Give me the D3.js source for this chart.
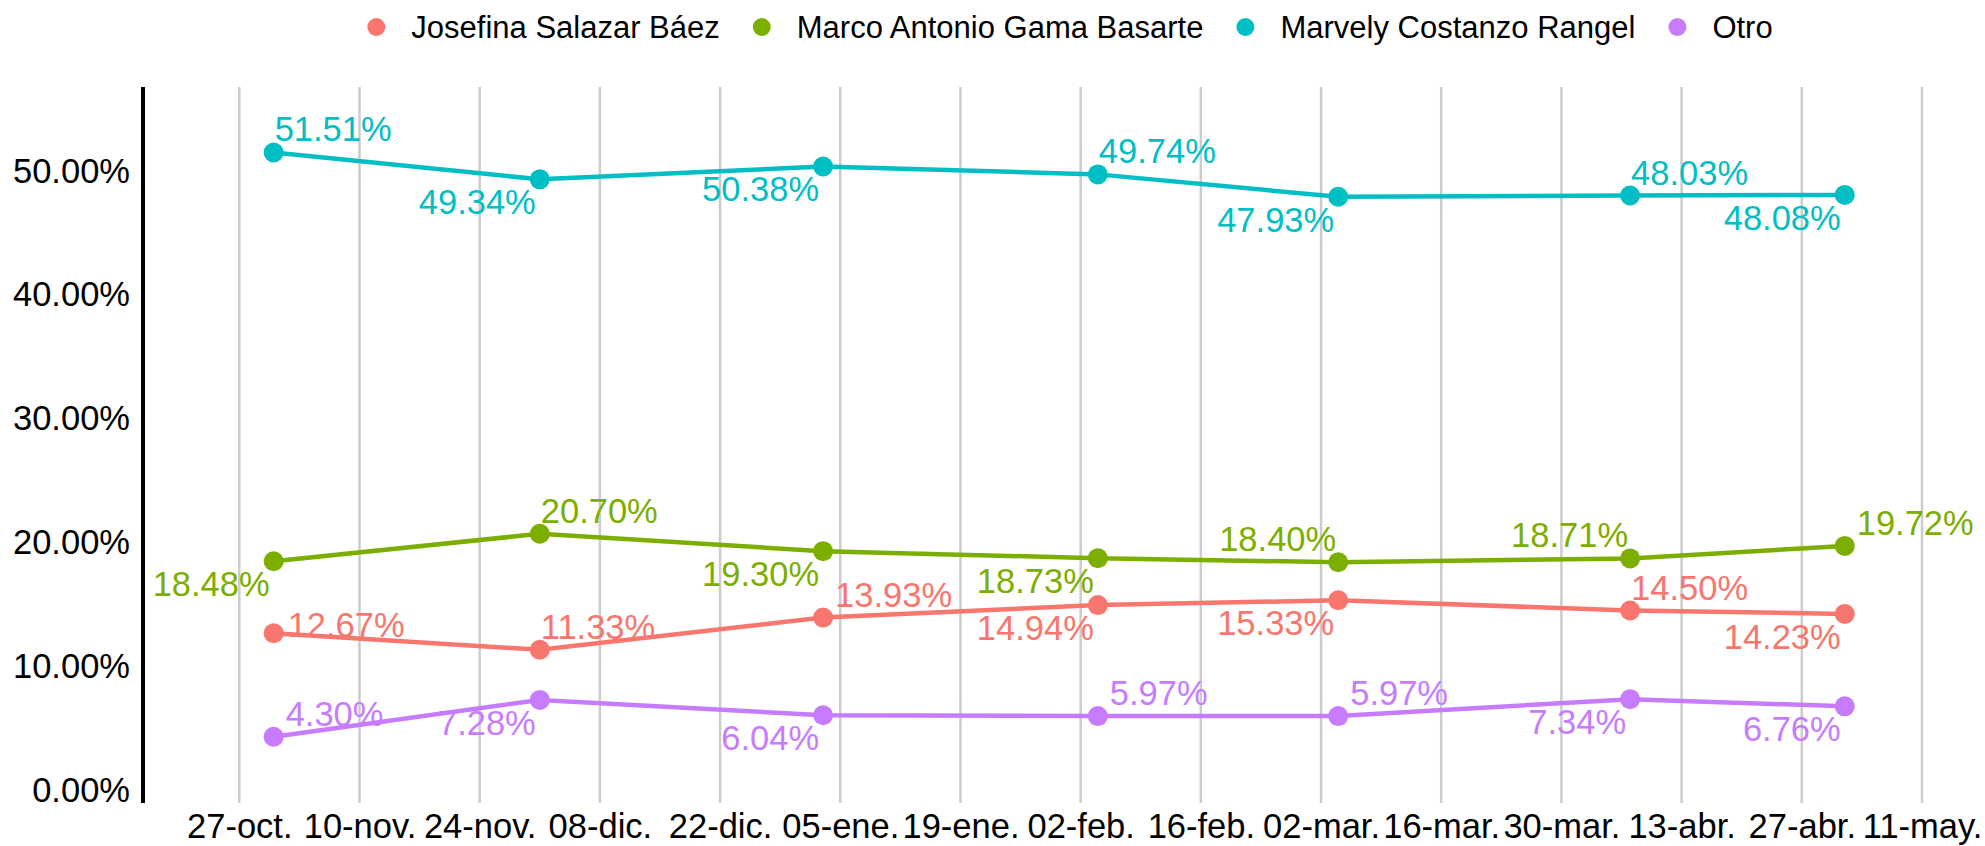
<!DOCTYPE html>
<html>
<head>
<meta charset="utf-8">
<script src="https://cdn.jsdelivr.net/npm/d3@7"></script>
<style>
    body { margin: 0; background: #fff; }
    svg { display: block; font-family: "Liberation Sans", Arial, sans-serif; }
</style>
</head>
<body>
<div id="chart"></div>
<script>
// Poll data
const candidates = ["Josefina Salazar Báez", "Marco Antonio Gama Basarte", "Marvely Costanzo Rangel", "Otro"];
const pollDates = ["2024-10-31", "2024-12-01", "2025-01-03", "2025-02-04", "2025-03-04", "2025-04-07", "2025-05-02"];
const josefina = [12.67, 11.33, 13.93, 14.94, 15.33, 14.50, 14.23];
const marco = [18.48, 20.70, 19.30, 18.73, 18.40, 18.71, 19.72];
const marvely = [51.51, 49.34, 50.38, 49.74, 47.93, 48.03, 48.08];
const otro = [4.30, 7.28, 6.04, 5.97, 5.97, 7.34, 6.76];
const yTicks = [0, 10, 20, 30, 40, 50];
const xTickLabels = ["27-oct.", "10-nov.", "24-nov.", "08-dic.", "22-dic.", "05-ene.", "19-ene.", "02-feb.",
    "16-feb.", "02-mar.", "16-mar.", "30-mar.", "13-abr.", "27-abr.", "11-may."];

const colors = ["#F8766D", "#7CAE00", "#00BFC4", "#C77CFF"];

// where each value label sits relative to its point
const labelSpots = [
    ["r", "ar", "arw", "bl", "bl", "ar", "bl"],
    ["bl", "ar", "bl", "bl", "al", "al", "arw"],
    ["ar", "bl", "bl", "ar", "bl", "ar", "bl"],
    ["arw", "bl", "bl", "arw", "arw", "bl", "bl"]
];
const spotStyle = {
    ar:  { anchor: "start", dx: 1, dy: -11 },
    arw: { anchor: "start", dx: 12, dy: -11 },
    al:  { anchor: "end", dx: -2, dy: -11 },
    bl:  { anchor: "end", dx: -4, dy: 35 },
    r:   { anchor: "start", dx: 14, dy: 4 }
};

const width = 1985, height = 846;
const fontSize = 34.5;
const parse = d3.utcParse("%Y-%m-%d");
const firstTick = parse("2024-10-27");
const tickDates = xTickLabels.map((_, i) => d3.utcDay.offset(firstTick, i * 14));

const series = [josefina, marco, marvely, otro].map((vals, i) => ({
    name: candidates[i],
    color: colors[i],
    points: vals.map((v, j) => ({ date: parse(pollDates[j]), value: v, spot: labelSpots[i][j] }))
}));

const x = d3.scaleUtc()
    .domain([tickDates[0], tickDates[tickDates.length - 1]])
    .range([239.3, 1922]);
const y = d3.scaleLinear()
    .domain([-1.05, 56.8])
    .range([803, 87]);
const panelLeft = 143;

const svg = d3.select("#chart").append("svg")
    .attr("width", width)
    .attr("height", height);

svg.append("rect").attr("width", width).attr("height", height).attr("fill", "#fff");

// vertical grid
svg.append("g")
    .selectAll("line")
    .data(tickDates)
    .join("line")
    .attr("x1", d => x(d)).attr("x2", d => x(d))
    .attr("y1", y.range()[1]).attr("y2", y.range()[0])
    .attr("stroke", "#cccccc")
    .attr("stroke-width", 2.5);

// y axis
const yAxis = svg.append("g")
    .attr("transform", `translate(${panelLeft},0)`)
    .call(d3.axisLeft(y).tickValues(yTicks).tickSize(0).tickPadding(13).tickFormat(d => d.toFixed(2) + "%"));
yAxis.select(".domain").attr("d", `M0,${y.range()[1]}V${y.range()[0]}`).attr("stroke", "#000").attr("stroke-width", 4);
yAxis.selectAll("text").attr("font-size", fontSize).attr("font-family", "Liberation Sans, Arial, sans-serif").attr("fill", "#000");

// x axis labels
const xAxis = svg.append("g")
    .attr("transform", `translate(0,${y.range()[0]})`)
    .call(d3.axisBottom(x).tickValues(tickDates).tickSize(0).tickPadding(11).tickFormat((d, i) => xTickLabels[i]));
xAxis.select(".domain").remove();
xAxis.selectAll("text").attr("font-size", fontSize).attr("font-family", "Liberation Sans, Arial, sans-serif").attr("fill", "#000");

// lines
const line = d3.line().x(d => x(d.date)).y(d => y(d.value));
svg.append("g")
    .selectAll("path")
    .data(series)
    .join("path")
    .attr("d", d => line(d.points))
    .attr("fill", "none")
    .attr("stroke", d => d.color)
    .attr("stroke-width", 4.5);

// points
svg.append("g")
    .selectAll("g")
    .data(series)
    .join("g")
    .attr("fill", d => d.color)
    .selectAll("circle")
    .data(d => d.points)
    .join("circle")
    .attr("cx", d => x(d.date))
    .attr("cy", d => y(d.value))
    .attr("r", 10);

// value labels
svg.append("g")
    .selectAll("g")
    .data(series)
    .join("g")
    .attr("fill", d => d.color)
    .selectAll("text")
    .data(d => d.points)
    .join("text")
    .attr("x", d => x(d.date) + spotStyle[d.spot].dx)
    .attr("y", d => y(d.value) + spotStyle[d.spot].dy)
    .attr("text-anchor", d => spotStyle[d.spot].anchor)
    .attr("font-size", fontSize)
    .text(d => d.value.toFixed(2) + "%");

// legend, laid out by measured text widths then centred
const legend = svg.append("g");
let cursor = 0;
series.forEach(s => {
    const item = legend.append("g").attr("transform", `translate(${cursor},0)`);
    item.append("circle").attr("cx", 9).attr("cy", 0).attr("r", 9).attr("fill", s.color);
    const t = item.append("text")
        .attr("x", 44)
        .attr("y", 11)
        .attr("font-size", 31)
        .attr("fill", "#000")
        .text(s.name);
    cursor += 44 + t.node().getComputedTextLength() + 33;
});
const legendWidth = cursor - 33;
legend.attr("transform", `translate(${1070 - legendWidth / 2},27)`);
</script>
</body>
</html>
